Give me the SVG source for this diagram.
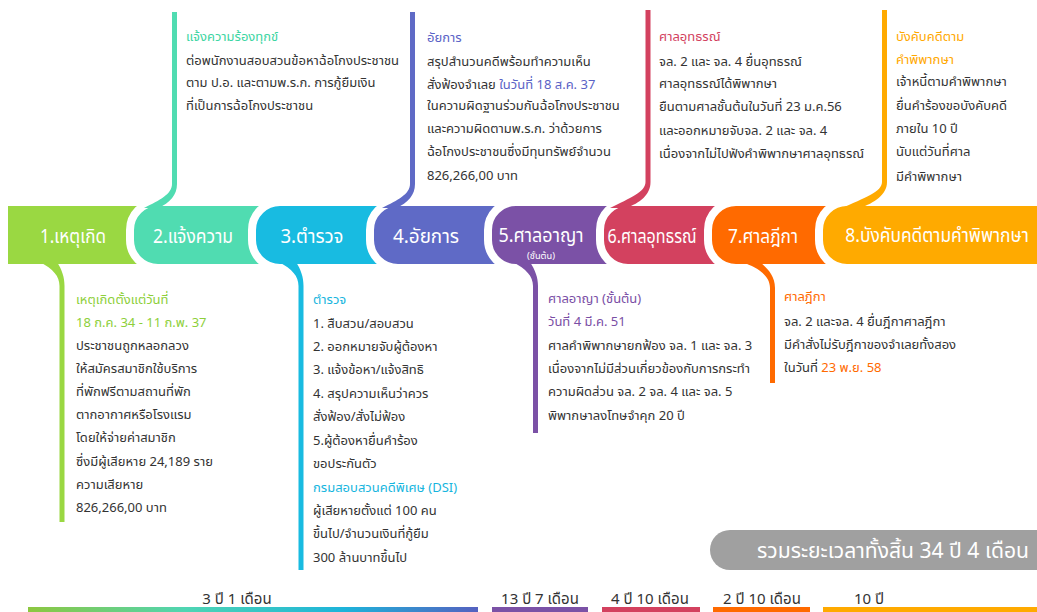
<svg xmlns="http://www.w3.org/2000/svg" width="1037" height="612" viewBox="0 0 1037 612">
<defs>
<style>
text{font-family:"Noto Sans Thai","Noto Sans","DejaVu Sans",sans-serif;}
.seg{stroke:#fff;stroke-width:8;}
.lbl{fill:#fff;font-size:20px;text-anchor:middle;}
.b{fill:#333;font-size:13px;}
.dur{fill:#333;font-size:15px;text-anchor:middle;}
.c1{fill:#9AD842}.c2{fill:#50DCB1}.c3{fill:#18BBE1}.c4{fill:#5F6AC6}
.c5{fill:#7B51A6}.c6{fill:#D3415F}.c7{fill:#FF6A00}.c8{fill:#FFAA00}
.t1{fill:#8DCF3A}.t2{fill:#3CD5A2}.t3{fill:#16B5DE}.t4{fill:#5A62C6}
.t5{fill:#7A4EA5}.t6{fill:#D23F5E}.t7{fill:#FF6A00}.t8{fill:#FFA800}
</style>
<linearGradient id="g1" x1="0" x2="1" y1="0" y2="0">
<stop offset="0" stop-color="#8DC73F"/>
<stop offset="0.35" stop-color="#4FD5B3"/>
<stop offset="0.7" stop-color="#1DB4DA"/>
<stop offset="1" stop-color="#5561C0"/>
</linearGradient>
</defs>

<g id="n1">
<rect class="c1" x="8" y="206" width="140" height="58"/>
<text class="lbl" x="73" y="243" textLength="66" lengthAdjust="spacingAndGlyphs">1.เหตุเกิด</text>
</g>
<g id="n2">
<path class="c2 seg" d="M290 202 H158 A28 28 0 0 0 130 230 V240 A28 28 0 0 0 158 268 H290 Z"/>
<text class="lbl" x="193" y="243" textLength="80" lengthAdjust="spacingAndGlyphs">2.แจ้งความ</text>
</g>
<g id="n3">
<path class="c3 seg" d="M410 202 H280 A28 28 0 0 0 252 230 V240 A28 28 0 0 0 280 268 H410 Z"/>
<text class="lbl" x="312" y="243" textLength="63" lengthAdjust="spacingAndGlyphs">3.ตำรวจ</text>
</g>
<g id="n4">
<path class="c4 seg" d="M525 202 H398 A28 28 0 0 0 370 230 V240 A28 28 0 0 0 398 268 H525 Z"/>
<text class="lbl" x="426" y="243" textLength="66" lengthAdjust="spacingAndGlyphs">4.อัยการ</text>
</g>
<g id="n5">
<path class="c5 seg" d="M640 202 H516 A28 28 0 0 0 488 230 V240 A28 28 0 0 0 516 268 H640 Z"/>
<text class="lbl" x="541" y="242" textLength="85" lengthAdjust="spacingAndGlyphs">5.ศาลอาญา</text>
<text x="541" y="259" fill="#fff" font-size="8" text-anchor="middle" textLength="28" lengthAdjust="spacingAndGlyphs">(ชั้นต้น)</text>
</g>
<g id="n6">
<path class="c6 seg" d="M750 202 H628 A28 28 0 0 0 600 230 V240 A28 28 0 0 0 628 268 H750 Z"/>
<text class="lbl" x="652" y="243" textLength="89" lengthAdjust="spacingAndGlyphs">6.ศาลอุทธรณ์</text>
</g>
<g id="n7">
<path class="c7 seg" d="M860 202 H736 A28 28 0 0 0 708 230 V240 A28 28 0 0 0 736 268 H860 Z"/>
<text class="lbl" x="763" y="243" textLength="70" lengthAdjust="spacingAndGlyphs">7.ศาลฎีกา</text>
</g>
<g id="n8">
<path class="c8 seg" d="M1045 202 H847 A28 28 0 0 0 819 230 V240 A28 28 0 0 0 847 268 H1045 Z"/>
<text class="lbl" font-size="18" transform="translate(937 242) scale(0.87 1)">8.บังคับคดีตามคำพิพากษา</text>
</g>

<g id="connectors">
<path class="c1" d="M59.5 522 V286 C59.5 276 53 269 40 262 L57 262 C62 270 64.5 277 64.5 286 V522 Z"/>
<path class="c2" d="M172 12 H177 V184 C177 195 170 203 158 208 L144 208 C160 200 172 194 172 184 Z"/>
<path class="c3" d="M298.5 570 V286 C298.5 276 292 269 279 262 L296 262 C301 270 303.5 277 303.5 286 V570 Z"/>
<path class="c4" d="M410 12 H415 V184 C415 195 408 203 396 208 L382 208 C398 200 410 194 410 184 Z"/>
<path class="c5" d="M533 433 V286 C533 276 526 269 513 262 L530 262 C535 270 538 277 538 286 V433 Z"/>
<path class="c6" d="M645.5 10 H650.5 V182 C650.5 195 640 203 626 208 L610 208 C630 198 645.5 192 645.5 182 Z"/>
<path class="c7" d="M770 383 V288 C770 276 759 268 742 262 L760 262 C768 269 775 276 775 288 V383 Z"/>
<path class="c8" d="M882 10 H887 V182 C887 195 874 203 860 208 L842 208 C864 198 882 192 882 182 Z"/>
</g>

<g id="callout1">
<text class="b t1" x="76" y="304">เหตุเกิดตั้งแต่วันที่</text>
<text class="b t1" x="76" y="327">18 ก.ค. 34 - 11 ก.พ. 37</text>
<text class="b" x="76" y="350">ประชาชนถูกหลอกลวง</text>
<text class="b" x="76" y="373">ให้สมัครสมาชิกใช้บริการ</text>
<text class="b" x="76" y="396">ที่พักฟรีตามสถานที่พัก</text>
<text class="b" x="76" y="419">ตากอากาศหรือโรงแรม</text>
<text class="b" x="76" y="442">โดยให้จ่ายค่าสมาชิก</text>
<text class="b" x="76" y="466">ซึ่งมีผู้เสียหาย 24,189 ราย</text>
<text class="b" x="76" y="489">ความเสียหาย</text>
<text class="b" x="76" y="512">826,266,00 บาท</text>
</g>
<g id="callout2">
<text class="b t2" x="186" y="41">แจ้งความร้องทุกข์</text>
<text class="b" x="186" y="65">ต่อพนักงานสอบสวนข้อหาฉ้อโกงประชาชน</text>
<text class="b" x="186" y="87">ตาม ป.อ. และตามพ.ร.ก. การกู้ยืมเงิน</text>
<text class="b" x="186" y="110">ที่เป็นการฉ้อโกงประชาชน</text>
</g>
<g id="callout3">
<text class="b t3" x="313" y="304">ตำรวจ</text>
<text class="b" x="313" y="328">1. สืบสวน/สอบสวน</text>
<text class="b" x="313" y="351">2. ออกหมายจับผู้ต้องหา</text>
<text class="b" x="313" y="374">3. แจ้งข้อหา/แจ้งสิทธิ</text>
<text class="b" x="313" y="398">4. สรุปความเห็นว่าควร</text>
<text class="b" x="313" y="421">สั่งฟ้อง/สั่งไม่ฟ้อง</text>
<text class="b" x="313" y="445">5.ผู้ต้องหายื่นคำร้อง</text>
<text class="b" x="313" y="468">ขอประกันตัว</text>
<text class="b t3" x="313" y="492">กรมสอบสวนคดีพิเศษ (DSI)</text>
<text class="b" x="313" y="515">ผู้เสียหายตั้งแต่ 100 คน</text>
<text class="b" x="313" y="538">ขึ้นไป/จำนวนเงินที่กู้ยืม</text>
<text class="b" x="313" y="562">300 ล้านบาทขึ้นไป</text>
</g>
<g id="callout4">
<text class="b t4" x="427" y="42">อัยการ</text>
<text class="b" x="427" y="66">สรุปสำนวนคดีพร้อมทำความเห็น</text>
<text class="b" x="427" y="89">สั่งฟ้องจำเลย <tspan class="t4">ในวันที่ 18 ส.ค. 37</tspan></text>
<text class="b" x="427" y="110">ในความผิดฐานร่วมกันฉ้อโกงประชาชน</text>
<text class="b" x="427" y="133">และความผิดตามพ.ร.ก. ว่าด้วยการ</text>
<text class="b" x="427" y="156">ฉ้อโกงประชาชนซึ่งมีทุนทรัพย์จำนวน</text>
<text class="b" x="427" y="180">826,266,00 บาท</text>
</g>
<g id="callout5">
<text class="b t5" x="548" y="303">ศาลอาญา (ชั้นต้น)</text>
<text class="b t5" x="548" y="326">วันที่ 4 มี.ค. 51</text>
<text class="b" x="548" y="350">ศาลคำพิพากษายกฟ้อง จล. 1 และ จล. 3</text>
<text class="b" x="548" y="373">เนื่องจากไม่มีส่วนเกี่ยวข้องกับการกระทำ</text>
<text class="b" x="548" y="396">ความผิดส่วน จล. 2  จล. 4 และ จล. 5</text>
<text class="b" x="548" y="420">พิพากษาลงโทษจำคุก 20 ปี</text>
</g>
<g id="callout6">
<text class="b t6" x="659" y="41">ศาลอุทธรณ์</text>
<text class="b" x="659" y="66">จล. 2 และ จล. 4 ยื่นอุทธรณ์</text>
<text class="b" x="659" y="88">ศาลอุทธรณ์ได้พิพากษา</text>
<text class="b" x="659" y="111">ยืนตามศาลชั้นต้นในวันที่ 23 ม.ค.56</text>
<text class="b" x="659" y="135">และออกหมายจับจล. 2 และ จล. 4</text>
<text class="b" x="659" y="158">เนื่องจากไม่ไปฟังคำพิพากษาศาลอุทธรณ์</text>
</g>
<g id="callout7">
<text class="b t7" x="784" y="301">ศาลฎีกา</text>
<text class="b" x="784" y="326">จล. 2 และจล. 4 ยื่นฎีกาศาลฎีกา</text>
<text class="b" x="784" y="349">มีคำสั่งไม่รับฎีกาของจำเลยทั้งสอง</text>
<text class="b" x="784" y="372">ในวันที่ <tspan class="t7">23 พ.ย. 58</tspan></text>
</g>
<g id="callout8">
<text class="b t8" x="896" y="41">บังคับคดีตาม</text>
<text class="b t8" x="896" y="64">คำพิพากษา</text>
<text class="b" x="896" y="86">เจ้าหนี้ตามคำพิพากษา</text>
<text class="b" x="896" y="110">ยื่นคำร้องขอบังคับคดี</text>
<text class="b" x="896" y="133">ภายใน 10 ปี</text>
<text class="b" x="896" y="156">นับแต่วันที่ศาล</text>
<text class="b" x="896" y="181">มีคำพิพากษา</text>
</g>

<g id="total">
<path d="M1037 530 H730 A20 20 0 0 0 730 570 H1037 Z" fill="#A0A0A0"/>
<text x="893" y="558" fill="#fff" font-size="21" text-anchor="middle" textLength="272" lengthAdjust="spacingAndGlyphs">รวมระยะเวลาทั้งสิ้น 34 ปี 4 เดือน</text>
</g>

<g id="timeline">
<rect x="28" y="607" width="450" height="6" fill="url(#g1)"/>
<rect x="492" y="607" width="96" height="6" class="c5"/>
<rect x="602" y="607" width="98" height="6" class="c6"/>
<rect x="713" y="607" width="97" height="6" class="c7"/>
<rect x="823" y="607" width="214" height="6" class="c8"/>
<text class="dur" x="237" y="604">3 ปี 1 เดือน</text>
<text class="dur" x="540" y="604">13 ปี 7 เดือน</text>
<text class="dur" x="650" y="604">4 ปี 10 เดือน</text>
<text class="dur" x="762" y="604">2 ปี 10 เดือน</text>
<text class="dur" x="869" y="604">10 ปี</text>
</g>
</svg>
